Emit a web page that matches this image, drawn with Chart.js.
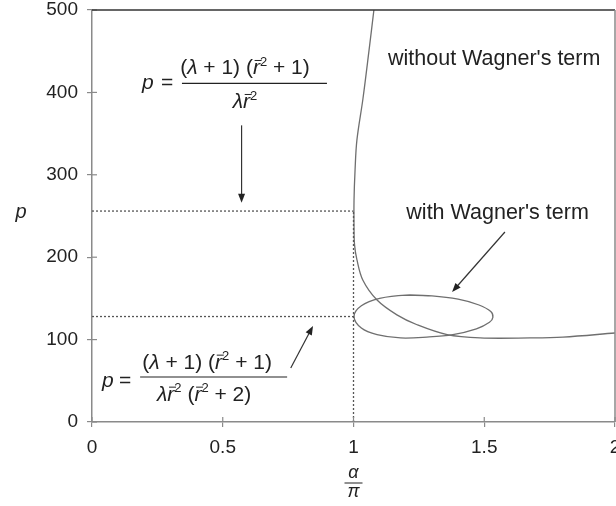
<!DOCTYPE html>
<html><head><meta charset="utf-8">
<script src="https://cdn.jsdelivr.net/npm/chart.js@4/dist/chart.umd.min.js"></script>
<style>html,body{margin:0;padding:0;background:#fff}#wrap{width:616px;height:506px}</style>
</head><body><div id="wrap"><canvas id="c" width="616" height="506"></canvas></div>
<script>
// ---- data ----
const xTicks = [0, 0.5, 1, 1.5, 2];
const yTicks = [0, 100, 200, 300, 400, 500];
// curve "without Wagner's term" (alpha/pi, p)
const withoutX = [1.078, 1.059, 1.036, 1.013, 1.006, 1.002, 1.002, 1.004, 1.013, 1.036, 1.090, 1.166, 1.243, 1.358, 1.484, 1.675, 1.801, 2.0];
const withoutY = [500, 450, 392, 342, 306, 269, 235, 215, 197, 172, 148, 130, 118, 106, 102, 102, 103, 108];
// closed loop "with Wagner's term"
const withX = [1.20, 1.30, 1.40, 1.48, 1.525, 1.533, 1.52, 1.47, 1.38, 1.28, 1.18, 1.09, 1.03, 1.002, 1.03, 1.10, 1.20, 1.30];
const withY = [154, 153, 149, 142, 134, 127, 121, 113, 106, 103, 102, 106, 114, 128, 141, 150, 154, 153];
// reference levels
const upperLevel = 256;   // (λ+1)(r²+1)/(λ r²)
const lowerLevel = 128;   // (λ+1)(r²+1)/(λ r² (r²+2))
const criticalRatio = 1;  // α/π = 1

const pts = (xs, ys) => xs.map((x, i) => ({x, y: ys[i]}));
const FONT = '"Liberation Sans", Arial, Helvetica, sans-serif';
const CURVE = '#6f6f6f', DASH = '#555', AXIS = '#8a8a8a', TXT = '#222';

function runsWidth(ctx, runs, size) {
  let w = 0;
  for (const r of runs) {
    ctx.font = (r.it ? 'italic ' : '') + (r.sup ? size * 0.62 : size) + 'px ' + FONT;
    w += ctx.measureText(r.t).width;
  }
  return w;
}
function drawRuns(ctx, runs, cx, base, size) {
  let x = cx - runsWidth(ctx, runs, size) / 2;
  ctx.textBaseline = 'alphabetic'; ctx.textAlign = 'left'; ctx.fillStyle = TXT;
  for (const r of runs) {
    ctx.font = (r.it ? 'italic ' : '') + (r.sup ? size * 0.62 : size) + 'px ' + FONT;
    const w = ctx.measureText(r.t).width;
    const y = r.sup ? base - size * 0.42 : base;
    ctx.fillText(r.t, x, y);
    if (r.bar) {
      ctx.strokeStyle = TXT; ctx.lineWidth = 1;
      ctx.beginPath(); ctx.moveTo(x + size * 0.08, base - size * 0.66); ctx.lineTo(x + w + size * 0.08, base - size * 0.66); ctx.stroke();
    }
    x += w;
  }
}
function arrow(ctx, x1, y1, x2, y2) {
  const a = Math.atan2(y2 - y1, x2 - x1), L = 9, W = 3.5;
  ctx.strokeStyle = '#333'; ctx.lineWidth = 1.2;
  ctx.beginPath(); ctx.moveTo(x1, y1); ctx.lineTo(x2 - L * 0.7 * Math.cos(a), y2 - L * 0.7 * Math.sin(a)); ctx.stroke();
  ctx.fillStyle = '#222';
  ctx.beginPath(); ctx.moveTo(x2, y2);
  ctx.lineTo(x2 - L * Math.cos(a) + W * Math.sin(a), y2 - L * Math.sin(a) - W * Math.cos(a));
  ctx.lineTo(x2 - L * Math.cos(a) - W * Math.sin(a), y2 - L * Math.sin(a) + W * Math.cos(a));
  ctx.closePath(); ctx.fill();
}

const numRuns = [{t:'('},{t:'λ',it:true},{t:' + 1) ('},{t:'r',it:true,bar:true},{t:'2',sup:true},{t:' + 1)'}];
const den1 = [{t:'λ',it:true},{t:'r',it:true,bar:true},{t:'2',sup:true}];
const den2 = [{t:'λ',it:true},{t:'r',it:true,bar:true},{t:'2',sup:true},{t:' ('},{t:'r',it:true,bar:true},{t:'2',sup:true},{t:' + 2)'}];

const overlay = {
  id: 'overlay',
  afterDraw(chart) {
    const ctx = chart.ctx, xs = chart.scales.x, ys = chart.scales.y, ca = chart.chartArea;
    ctx.save();
    // inward tick parts
    ctx.strokeStyle = AXIS; ctx.lineWidth = 1.2;
    for (const v of yTicks) { const y = ys.getPixelForValue(v); ctx.beginPath(); ctx.moveTo(ca.left, y); ctx.lineTo(ca.left + 5, y); ctx.stroke(); }
    for (const v of xTicks) { const x = xs.getPixelForValue(v); ctx.beginPath(); ctx.moveTo(x, ca.bottom); ctx.lineTo(x, ca.bottom - 5); ctx.stroke(); }
    // top and right frame
    ctx.strokeStyle = '#333'; ctx.lineWidth = 1.5;
    ctx.beginPath(); ctx.moveTo(ca.left, ca.top); ctx.lineTo(ca.right, ca.top); ctx.stroke();
    ctx.strokeStyle = AXIS; ctx.lineWidth = 1.5;
    ctx.beginPath(); ctx.moveTo(ca.right, ca.top); ctx.lineTo(ca.right, ca.bottom); ctx.stroke();

    // arrows (data coordinates)
    const P = (x, y) => [xs.getPixelForValue(x), ys.getPixelForValue(y)];
    let a = P(0.572, 360), b = P(0.572, 266); arrow(ctx, a[0], a[1], b[0], b[1]);
    a = P(0.760, 65.5); b = P(0.845, 116.5); arrow(ctx, a[0], a[1], b[0], b[1]);
    a = P(1.579, 230.6); b = P(1.377, 157.8); arrow(ctx, a[0], a[1], b[0], b[1]);

    // labels
    ctx.fillStyle = TXT; ctx.textAlign = 'center'; ctx.textBaseline = 'middle';
    ctx.font = '21.5px ' + FONT;
    let t = P(1.538, 440.5); ctx.fillText("without Wagner's term", t[0], t[1]);
    t = P(1.551, 253.6); ctx.fillText("with Wagner's term", t[0], t[1]);

    // formula 1 (anchor: left end of fraction bar)
    const S = 21;
    let f = P(0.344, 411);
    ctx.textAlign = 'left'; ctx.textBaseline = 'alphabetic';
    ctx.font = 'italic ' + S + 'px ' + FONT; ctx.fillText('p', f[0] - 40, f[1] + 6);
    ctx.font = S + 'px ' + FONT; ctx.fillText('=', f[0] - 21, f[1] + 6);
    ctx.strokeStyle = TXT; ctx.lineWidth = 1.1;
    ctx.beginPath(); ctx.moveTo(f[0], f[1]); ctx.lineTo(f[0] + 145, f[1]); ctx.stroke();
    drawRuns(ctx, numRuns, f[0] + 63, f[1] - 9, S);
    drawRuns(ctx, den1, f[0] + 63, f[1] + 25, S);

    // formula 2
    f = P(0.184, 54.6);
    ctx.textAlign = 'left'; ctx.textBaseline = 'alphabetic'; ctx.fillStyle = TXT;
    ctx.font = 'italic ' + S + 'px ' + FONT; ctx.fillText('p', f[0] - 38, f[1] + 10);
    ctx.font = S + 'px ' + FONT; ctx.fillText('=', f[0] - 21, f[1] + 10);
    ctx.strokeStyle = TXT; ctx.lineWidth = 1.1;
    ctx.beginPath(); ctx.moveTo(f[0], f[1]); ctx.lineTo(f[0] + 147, f[1]); ctx.stroke();
    drawRuns(ctx, numRuns, f[0] + 67, f[1] - 8, S);
    drawRuns(ctx, den2, f[0] + 64, f[1] + 24, S);

    // axis titles
    ctx.textAlign = 'center'; ctx.textBaseline = 'middle'; ctx.fillStyle = TXT;
    ctx.font = 'italic 20px ' + FONT; ctx.fillText('p', 21, (ca.top + ca.bottom) / 2 - 4);
    const cx = xs.getPixelForValue(criticalRatio);
    ctx.font = 'italic 18px ' + FONT;
    ctx.fillText('α', cx, ca.bottom + 51);
    ctx.fillText('π', cx, ca.bottom + 70);
    ctx.strokeStyle = TXT; ctx.lineWidth = 1;
    ctx.beginPath(); ctx.moveTo(cx - 9, ca.bottom + 61); ctx.lineTo(cx + 9, ca.bottom + 61); ctx.stroke();
    ctx.restore();
  }
};

const lineDs = (data, color, dash) => ({
  data, showLine: true, borderColor: color, borderWidth: 1.3,
  borderDash: dash || [], pointRadius: 0, tension: dash ? 0 : 0.35, fill: false
});

new Chart(document.getElementById('c'), {
  type: 'scatter',
  data: {
    datasets: [
      lineDs([{x: 0, y: upperLevel}, {x: criticalRatio, y: upperLevel}], DASH, [2, 2]),
      lineDs([{x: 0, y: lowerLevel}, {x: criticalRatio, y: lowerLevel}], DASH, [2, 2]),
      lineDs([{x: criticalRatio, y: 0}, {x: criticalRatio, y: upperLevel}], DASH, [2, 2]),
      lineDs(pts(withoutX, withoutY), CURVE),
      lineDs(pts(withX, withY), CURVE)
    ]
  },
  options: {
    responsive: false, animation: false, devicePixelRatio: 1,
    layout: {padding: {top: 10, right: 1, left: 0, bottom: 0}},
    plugins: {legend: {display: false}, tooltip: {enabled: false}},
    scales: {
      x: {
        type: 'linear', min: 0, max: 2,
        afterBuildTicks: s => { s.ticks = xTicks.map(v => ({value: v})); },
        afterFit: s => { s.height = 84; s.paddingLeft = 0; s.paddingRight = 0; },
        ticks: {font: {size: 19, family: FONT}, color: TXT, padding: 9, maxRotation: 0, callback: v => String(v)},
        grid: {display: true, drawOnChartArea: false, drawTicks: true, tickLength: 5, color: AXIS, lineWidth: 1.2},
        border: {display: true, color: AXIS, width: 1.5}
      },
      y: {
        type: 'linear', min: 0, max: 500,
        afterBuildTicks: s => { s.ticks = yTicks.map(v => ({value: v})); },
        afterFit: s => { s.width = 92; s.paddingTop = 0; s.paddingBottom = 0; },
        ticks: {font: {size: 19, family: FONT}, color: TXT, padding: 9, callback: v => String(v)},
        grid: {display: true, drawOnChartArea: false, drawTicks: true, tickLength: 5, color: AXIS, lineWidth: 1.2},
        border: {display: true, color: AXIS, width: 1.5}
      }
    }
  },
  plugins: [overlay]
});
</script>
</body></html>
